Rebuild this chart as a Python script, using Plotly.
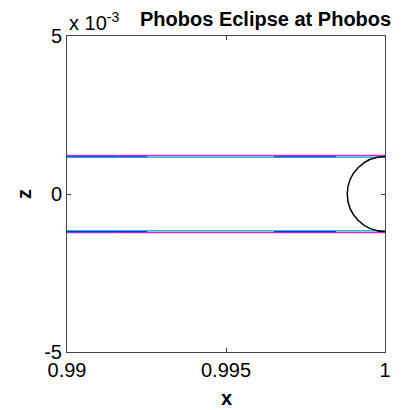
import plotly.graph_objects as go

# Shadow edge tracks (x in normalized distance, z in units of 1e-3)
x_full = [0.99, 1.0]
magenta_top = [1.22, 1.22]
magenta_bot = [-1.22, -1.22]
cyan_top = [1.16, 1.16]
cyan_bot = [-1.16, -1.16]

blue_seg1_x = [0.99, 0.99252]
blue_seg2_x = [0.99651, 0.99846]
blue_top = [1.18, 1.18]
blue_bot = [-1.19, -1.19]

purple_x = [0.99, 0.99151]
purple_top = [1.20, 1.20]
purple_bot = [-1.20, -1.20]

# Phobos body (center x, z and radius, z in 1e-3)
phobos_cx = 1.0
phobos_cz = 0.0
phobos_r = 1.187

x_ticks = [0.99, 0.995, 1.0]
x_ticktext = ["0.99", "0.995", "1"]
z_ticks = [-5, 0, 5]
z_ticktext = ["-5", "0", "5"]

fig = go.Figure()

def add(xs, zs, color, w=1.5):
    fig.add_trace(go.Scatter(x=xs, y=zs, mode="lines",
                             line=dict(color=color, width=w),
                             showlegend=False, hoverinfo="skip"))

add(x_full, magenta_top, "#dd22dd")
add(x_full, magenta_bot, "#dd22dd")
add(x_full, cyan_top, "#22c4c8")
add(x_full, cyan_bot, "#22c4c8")
add(purple_x, purple_top, "#8a55d8", 1.8)
add(purple_x, purple_bot, "#8a55d8", 1.8)
for sx in (blue_seg1_x, blue_seg2_x):
    add(sx, blue_top, "#2a4cf0", 1.2)
    add(sx, blue_bot, "#1a2ce0", 1.2)

# x scale: 0.01 per 318 px; z scale: 10e-3 per 316 px -> radius in x units
rx = phobos_r * 1e-3
fig.add_shape(type="circle", xref="x", yref="y",
              x0=phobos_cx - rx, x1=phobos_cx + rx,
              y0=phobos_cz - phobos_r, y1=phobos_cz + phobos_r,
              line=dict(color="black", width=1.5))

axis_common = dict(showgrid=False, zeroline=False, showline=True,
                   linecolor="#444444", linewidth=1, mirror="ticks",
                   ticks="inside", ticklen=4, tickcolor="#444444",
                   tickfont=dict(family="Arial, Liberation Sans", size=20, color="black"))

fig.update_xaxes(range=[0.99, 1.0], tickvals=x_ticks, ticktext=x_ticktext, **axis_common)
fig.update_yaxes(range=[-5, 5], tickvals=z_ticks, ticktext=z_ticktext, **axis_common)

fig.update_layout(
    width=402, height=410,
    margin=dict(l=67, r=17, t=36, b=58),
    plot_bgcolor="white", paper_bgcolor="white",
    annotations=[
        dict(text="<b>Phobos Eclipse at Phobos</b>", xref="paper", yref="paper",
             x=(265 - 67) / 318, y=(352 - 19) / 316, xanchor="center", yanchor="middle",
             showarrow=False, font=dict(family="Arial, Liberation Sans", size=20, color="black")),
        dict(text="x 10<sup>-3</sup>", xref="paper", yref="paper",
             x=0, y=(352 - 22) / 316, xanchor="left", yanchor="middle",
             showarrow=False, font=dict(family="Arial, Liberation Sans", size=20, color="black")),
        dict(text="<b>x</b>", xref="paper", yref="paper",
             x=0.5, y=(352 - 398) / 316, xanchor="center", yanchor="middle",
             showarrow=False, font=dict(family="Arial, Liberation Sans", size=20, color="black")),
        dict(text="<b>z</b>", xref="paper", yref="paper", textangle=-90,
             x=(24 - 67) / 318, y=0.5, xanchor="center", yanchor="middle",
             showarrow=False, font=dict(family="Arial, Liberation Sans", size=20, color="black")),
    ],
)

fig.write_html("out.html")
